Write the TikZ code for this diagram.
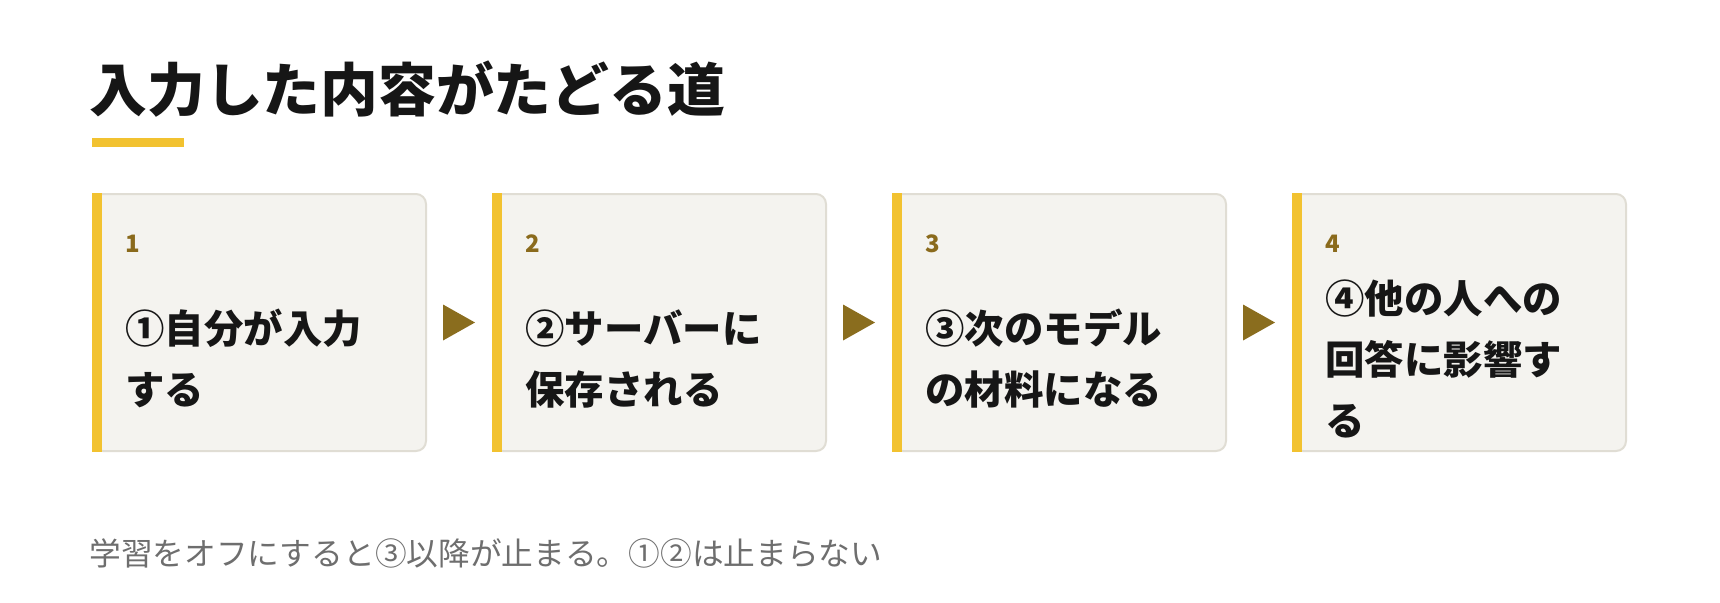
\documentclass[tikz,border=0pt]{standalone}
\usepackage{fontspec}
\setmainfont{Noto Sans CJK JP}
\usetikzlibrary{positioning,calc}
\definecolor{barcol}{HTML}{F2C230}
\definecolor{boxfill}{HTML}{F4F3EF}
\definecolor{boxline}{HTML}{E0DDD4}
\definecolor{numcol}{HTML}{8A6A1C}
\definecolor{tricol}{HTML}{8A6D1E}
\definecolor{notecol}{HTML}{6E6E6E}
\definecolor{inkcol}{HTML}{161616}

\begin{document}
\begin{tikzpicture}[x=0.5pt, y=-0.5pt,
	card/.style={draw=boxline, fill=boxfill, line width=1pt, rounded corners=5pt,
		minimum width=166.5pt, minimum height=128.5pt, inner sep=0pt},
	num/.style={anchor=base west, inner sep=0pt, text=numcol,
		font=\bfseries\fontsize{12}{14}\selectfont},
	body/.style={anchor=west, inner sep=0pt, align=left, text=inkcol,
		font=\bfseries\fontsize{19.7}{30.5}\selectfont}]
\useasboundingbox (0, 0) rectangle (1720, 602);
\fill [white] (0, 0) rectangle (1720, 602);

\node [anchor=base west, inner sep=0pt, text=inkcol,
	font=\bfseries\fontsize{28.9}{34}\selectfont] (title) at (89, 111) {入力した内容がたどる道};
\fill [barcol] (92, 138) rectangle (184, 147);

\foreach \i/\xx in {1/92, 2/492, 3/892, 4/1292} {
	\node [card, anchor=north west] (card\i) at (\xx, 193) {};
	\fill [barcol] (card\i.north west) rectangle ([xshift=5pt]card\i.south west);
	\node [num] (num\i) at ($(card\i.north west) + (33, 59)$) {\i};
}
\node [body] (body1) at ($(card1.west) + (33, 36)$) {①自分が入力\\する};
\node [body] (body2) at ($(card2.west) + (33, 36)$) {②サーバーに\\保存される};
\node [body] (body3) at ($(card3.west) + (33, 36)$) {③次のモデル\\の材料になる};
\node [body] (body4) at ($(card4.west) + (33, 36)$) {④他の人への\\回答に影響す\\る};

\foreach \a/\b in {1/2, 2/3, 3/4} {
	\fill [tricol] ($(card\a.east) + (16, -18)$) -- ($(card\a.east) + (48, 0)$)
		-- ($(card\a.east) + (16, 18)$) -- cycle;
}

\node [anchor=base west, inner sep=0pt, text=notecol,
	font=\fontsize{15.85}{18}\selectfont] (note) at (89, 565)
	{学習をオフにすると③以降が止まる。①②は止まらない};
\end{tikzpicture}
\end{document}
